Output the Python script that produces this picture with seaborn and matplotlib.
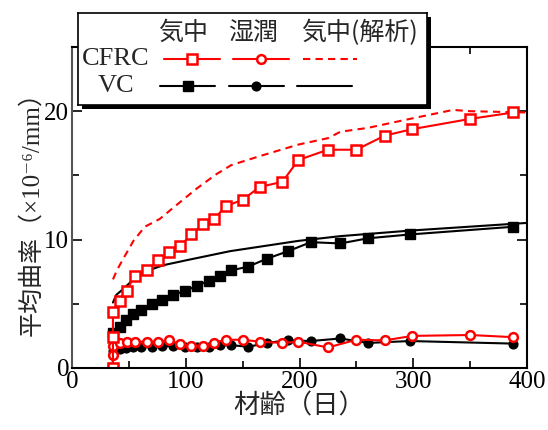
import numpy as np
import pandas as pd
import seaborn as sns
import matplotlib.pyplot as plt
from matplotlib.patches import Rectangle

# CFRC (気中 / 湿潤 share the same ages)
cfrc_day = [36, 36, 36, 42, 48, 55, 66, 76, 85, 95, 105, 115, 125, 135, 150, 165, 185, 199, 225, 250, 275, 299, 350, 388]
cfrc_air = [0, 2.4, 4.4, 5.2, 6.0, 7.2, 7.6, 8.4, 9.0, 9.5, 10.4, 11.2, 11.6, 12.6, 13.1, 14.1, 14.5, 16.2, 17.0, 17.0, 18.1, 18.6, 19.4, 19.9]
cfrc_wet = [0, 1.0, 1.7, 1.95, 2.05, 2.05, 2.05, 2.05, 2.15, 1.85, 1.75, 1.7, 1.95, 2.2, 2.2, 2.05, 1.95, 2.05, 1.6, 2.2, 2.15, 2.5, 2.57, 2.4]

# VC
vc_day = [36, 36, 42, 47.5, 54, 61, 70, 79, 89, 99, 110, 120, 130, 140, 155, 171, 190, 210, 236, 260, 297, 388]
vc_air = [0, 2.7, 3.2, 3.7, 4.2, 4.5, 5.0, 5.3, 5.7, 6.0, 6.4, 6.8, 7.16, 7.6, 7.9, 8.5, 9.1, 9.8, 9.7, 10.1, 10.4, 11.0]
vc_wet = [0, 1.3, 1.5, 1.55, 1.6, 1.6, 1.65, 1.7, 1.7, 1.65, 1.65, 1.65, 1.78, 1.78, 1.65, 1.95, 2.16, 2.1, 2.3, 1.95, 2.1, 1.9]

# 解析値
cfrc_ana_day = [36, 40, 45, 54, 64, 77, 92, 110, 127, 140, 165, 199, 225, 236, 260, 297, 335, 350, 400]
cfrc_ana = [6.9, 7.7, 8.5, 9.9, 11.0, 11.6, 12.7, 14.0, 15.1, 15.8, 16.5, 17.4, 17.9, 18.4, 18.7, 19.4, 20.1, 20.0, 19.9]
vc_ana_day = [36, 39, 45, 54, 66, 80, 101, 139, 199, 236, 297, 400]
vc_ana = [5.1, 5.7, 6.15, 6.9, 7.56, 8.0, 8.4, 9.1, 9.9, 10.27, 10.7, 11.3]

sns.set_style("ticks")
plt.rcParams["font.family"] = ["Liberation Serif", "DejaVu Serif", "Noto Sans CJK JP"]
cjk = ["Noto Sans CJK JP", "DejaVu Sans"]

W, H = 548, 430
fig = plt.figure(figsize=(W / 100, H / 100), dpi=100)
ax = fig.add_axes([72 / W, 1 - 368 / H, (527 - 72) / W, (368 - 47) / H])

lw = 1.5
sq, ci = 7, 6.3
sns.lineplot(x=cfrc_ana_day, y=cfrc_ana, ax=ax, color="red", lw=lw, dashes=False,
             linestyle=(0, (3.5, 2.5)), estimator=None, sort=False)
sns.lineplot(x=vc_ana_day, y=vc_ana, ax=ax, color="black", lw=lw, estimator=None, sort=False)
sns.lineplot(x=vc_day, y=vc_wet, ax=ax, color="black", lw=lw, marker="o", ms=ci,
             mfc="black", mec="black", mew=1, estimator=None, sort=False)
sns.lineplot(x=vc_day, y=vc_air, ax=ax, color="black", lw=lw, marker="s", ms=sq,
             mfc="black", mec="black", mew=1, estimator=None, sort=False)
sns.lineplot(x=cfrc_day, y=cfrc_wet, ax=ax, color="red", lw=lw, marker="o", ms=ci,
             mfc="white", mec="red", mew=1.8, estimator=None, sort=False)
sns.lineplot(x=cfrc_day, y=cfrc_air, ax=ax, color="red", lw=lw, marker="s", ms=sq,
             mfc="white", mec="red", mew=1.8, estimator=None, sort=False)

ax.set_xlim(0, 400)
ax.set_ylim(0, 25)
ax.set_xticks([0, 100, 200, 300, 400])
ax.set_xticks([50, 150, 250, 350], minor=True)
ax.set_yticks([0, 10, 20])
ax.set_yticks([5, 15], minor=True)
ax.tick_params(which="both", direction="in", top=True, right=True, labelsize=18, pad=2, colors="black")
ax.tick_params(which="major", length=7, width=1.2)
ax.tick_params(which="minor", length=5, width=1.2)
for s in ax.spines.values():
    s.set_linewidth(1.5)
    s.set_color("black")
ax.spines["left"].set_color("#555555")

ax.set_xlabel("材齢（日）", family=cjk, fontsize=19, labelpad=0)
ax.set_ylabel("平均曲率（×10⁻⁶/mm）", fontsize=18, labelpad=1,
              family=["Liberation Serif", "Noto Sans CJK JP", "DejaVu Serif"])

# 凡例（表形式）
x0, y0, x1, y1 = 78, 13, 427, 105
shadow = Rectangle((x0 / W + 4 / W, 1 - (y1 + 4) / H), (x1 - x0) / W, (y1 - y0) / H,
                   transform=fig.transFigure, facecolor="black", edgecolor="none", zorder=1.5)
fig.patches.append(shadow)
lax = fig.add_axes([x0 / W, 1 - y1 / H, (x1 - x0) / W, (y1 - y0) / H], zorder=3)
lax.set_xlim(x0, x1)
lax.set_ylim(y1, y0)
lax.set_xticks([])
lax.set_yticks([])
for s in lax.spines.values():
    s.set_linewidth(1.2)
    s.set_color("black")

for label, xc in [("気中", 183), ("湿潤", 253), ("気中(解析)", 359)]:
    lax.text(xc, 33, label, ha="center", va="center", fontsize=18,
             family=["Noto Sans CJK JP", "Liberation Serif"])
lax.text(116, 59, "CFRC", ha="center", va="center", fontsize=19)
lax.text(116, 86, "VC", ha="center", va="center", fontsize=19)

lax.plot([164, 220], [59, 59], color="red", lw=lw)
lax.plot([192], [59], marker="s", ms=sq, mfc="white", mec="red", mew=1.8)
lax.plot([233, 289], [59, 59], color="red", lw=lw)
lax.plot([261], [59], marker="o", ms=ci, mfc="white", mec="red", mew=1.8)
lax.plot([303, 357], [59, 59], color="red", lw=lw, linestyle=(0, (3.5, 2.5)))
lax.plot([160, 215], [86, 86], color="black", lw=lw)
lax.plot([188], [86], marker="s", ms=sq, color="black")
lax.plot([229, 284], [86, 86], color="black", lw=lw)
lax.plot([256], [86], marker="o", ms=ci, color="black")
lax.plot([297, 352], [86, 86], color="black", lw=lw)

fig.savefig("out.png", dpi=100)
